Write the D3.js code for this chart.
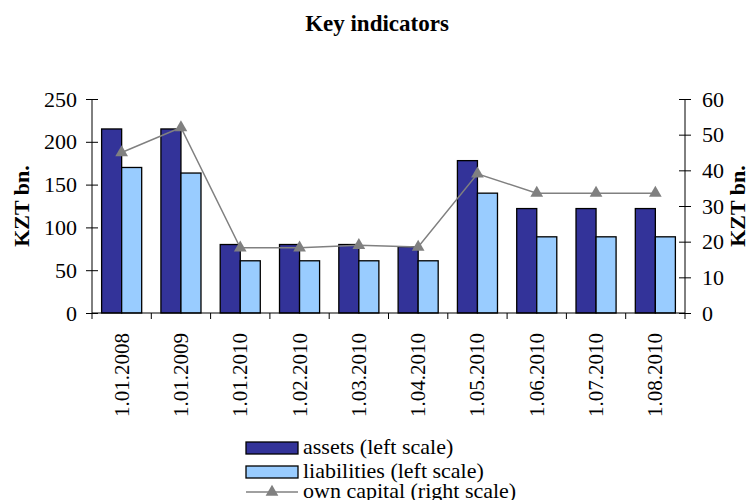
<!DOCTYPE html>
<html>
<head>
<meta charset="utf-8">
<script src="https://cdn.jsdelivr.net/npm/d3@7"></script>
<style>
  body { margin: 0; background: #fff; }
</style>
</head>
<body>
<div id="chart"></div>
<script>

var categories = ["1.01.2008", "1.01.2009", "1.01.2010", "1.02.2010", "1.03.2010",
                  "1.04.2010", "1.05.2010", "1.06.2010", "1.07.2010", "1.08.2010"];
var assets      = [215, 215, 80, 80, 80, 77.5, 178, 122, 122, 122];
var liabilities = [170, 163.5, 61, 61, 61, 61, 140, 89, 89, 89];
var ownCapital  = [45, 52, 18.3, 18.3, 19, 18.5, 39, 33.6, 33.6, 33.6];
var leftTicks  = [0, 50, 100, 150, 200, 250];
var rightTicks = [0, 10, 20, 30, 40, 50, 60];
var seriesNames = ["assets (left scale)", "liabilities (left scale)", "own capital (right scale)"];

var FONT = "'Liberation Serif', 'Times New Roman', 'DejaVu Serif', serif";

var width = 747, height = 500,
    margin = {top: 99, right: 62, bottom: 187, left: 92},
    innerWidth = width - margin.left - margin.right,
    innerHeight = height - margin.top - margin.bottom;

var svg = d3.select("#chart").append("svg")
    .attr("width", width)
    .attr("height", height)
    .attr("font-family", FONT);

// title
svg.append("text")
    .attr("x", 377)
    .attr("y", 31)
    .attr("text-anchor", "middle")
    .style("font-family", FONT)
    .style("font-size", "23px")
    .style("font-weight", "bold")
    .text("Key indicators");

var g = svg.append("g")
    .attr("transform", "translate(" + margin.left + "," + margin.top + ")");

var data = categories.map(function(c, i) {
  return {cat: c, assets: assets[i], liabilities: liabilities[i], own: ownCapital[i]};
});

var xScale = d3.scaleBand().domain(categories).range([0, innerWidth]).padding(0);
var subScale = d3.scaleBand().domain(["assets", "liabilities"])
    .range([0, xScale.bandwidth()]).paddingInner(0).paddingOuter(0.48);
var yLeft = d3.scaleLinear().domain([0, 250]).range([innerHeight, 0]);
var yRight = d3.scaleLinear().domain([0, 60]).range([innerHeight, 0]);
var colors = {assets: "#333399", liabilities: "#99ccff"};

// bars
var groups = g.selectAll(".grp")
  .data(data)
  .enter().append("g")
    .attr("class", "grp")
    .attr("transform", function(d) { return "translate(" + xScale(d.cat) + ",0)"; });

groups.selectAll("rect")
  .data(function(d) { return ["assets", "liabilities"].map(function(k) { return {key: k, value: d[k]}; }); })
  .enter().append("rect")
    .attr("x", function(d) { return subScale(d.key); })
    .attr("y", function(d) { return yLeft(d.value); })
    .attr("width", subScale.bandwidth())
    .attr("height", function(d) { return innerHeight - yLeft(d.value); })
    .attr("fill", function(d) { return colors[d.key]; })
    .attr("stroke", "#000")
    .attr("stroke-width", 1.3);

// left axis
var leftAxis = g.append("g")
    .call(d3.axisLeft(yLeft).tickValues(leftTicks).tickSize(6).tickPadding(9));
leftAxis.selectAll(".tick line").attr("x2", -6).attr("x1", 6);
leftAxis.selectAll("text").style("font-size", "22px").style("font-family", FONT);
leftAxis.select(".domain").attr("d", "M0,0V" + innerHeight);

// right axis
var rightAxis = g.append("g")
    .attr("transform", "translate(" + innerWidth + ",0)")
    .call(d3.axisRight(yRight).tickValues(rightTicks).tickSize(6).tickPadding(11));
rightAxis.selectAll(".tick line").attr("x1", -6).attr("x2", 6);
rightAxis.selectAll("text").style("font-size", "22px").style("font-family", FONT);
rightAxis.select(".domain").attr("d", "M0,0V" + innerHeight);

// x axis: boundary ticks and rotated labels
var xAxis = g.append("g")
    .attr("transform", "translate(0," + innerHeight + ")");
xAxis.append("line")
    .attr("x1", 0).attr("x2", innerWidth)
    .attr("stroke", "#000");
xAxis.selectAll(".bound")
  .data(d3.range(categories.length + 1))
  .enter().append("line")
    .attr("class", "bound")
    .attr("x1", function(i) { return i * xScale.step(); })
    .attr("x2", function(i) { return i * xScale.step(); })
    .attr("y1", 0).attr("y2", 6)
    .attr("stroke", "#000");
xAxis.selectAll(".xlab")
  .data(categories)
  .enter().append("text")
    .attr("class", "xlab")
    .attr("transform", function(d) {
      return "translate(" + (xScale(d) + xScale.bandwidth() / 2 + 7) + ",20) rotate(-90)";
    })
    .attr("text-anchor", "end")
    .style("font-family", FONT)
    .style("font-size", "21px")
    .text(function(d) { return d; });

// axis titles
[29, 745].forEach(function(x) {
  svg.append("text")
      .attr("transform", "translate(" + x + ",206) rotate(-90)")
      .attr("text-anchor", "middle")
      .style("font-family", FONT)
      .style("font-size", "22px")
      .style("font-weight", "bold")
      .text("KZT bn.");
});

// own capital line
var cx = function(d) { return xScale(d.cat) + xScale.bandwidth() / 2; };
var line = d3.line()
    .x(cx)
    .y(function(d) { return yRight(d.own); });
g.append("path")
    .datum(data)
    .attr("d", line)
    .attr("fill", "none")
    .attr("stroke", "#808080")
    .attr("stroke-width", 1.5);

var tri = d3.symbol().type(d3.symbolTriangle).size(70);
g.selectAll(".marker")
  .data(data)
  .enter().append("path")
    .attr("class", "marker")
    .attr("transform", function(d) { return "translate(" + cx(d) + "," + yRight(d.own) + ")"; })
    .attr("d", tri)
    .attr("fill", "#808080");

// legend
var legend = svg.append("g").attr("transform", "translate(246,0)");
var rowsY = [448, 472, 492];
legend.selectAll(".sw")
  .data(["assets", "liabilities"])
  .enter().append("rect")
    .attr("x", 0)
    .attr("y", function(d, i) { return rowsY[i] - 6; })
    .attr("width", 52)
    .attr("height", 12)
    .attr("fill", function(d) { return colors[d]; })
    .attr("stroke", "#000")
    .attr("stroke-width", 1.3);
legend.append("line")
    .attr("x1", 0).attr("x2", 52)
    .attr("y1", rowsY[2]).attr("y2", rowsY[2])
    .attr("stroke", "#808080")
    .attr("stroke-width", 1.5);
legend.append("path")
    .attr("transform", "translate(26," + rowsY[2] + ")")
    .attr("d", tri)
    .attr("fill", "#808080");
legend.selectAll(".lt")
  .data(seriesNames)
  .enter().append("text")
    .attr("x", 57)
    .attr("y", function(d, i) { return rowsY[i] + 6; })
    .style("font-family", FONT)
    .style("font-size", "22px")
    .text(function(d) { return d; });

</script>
</body>
</html>
